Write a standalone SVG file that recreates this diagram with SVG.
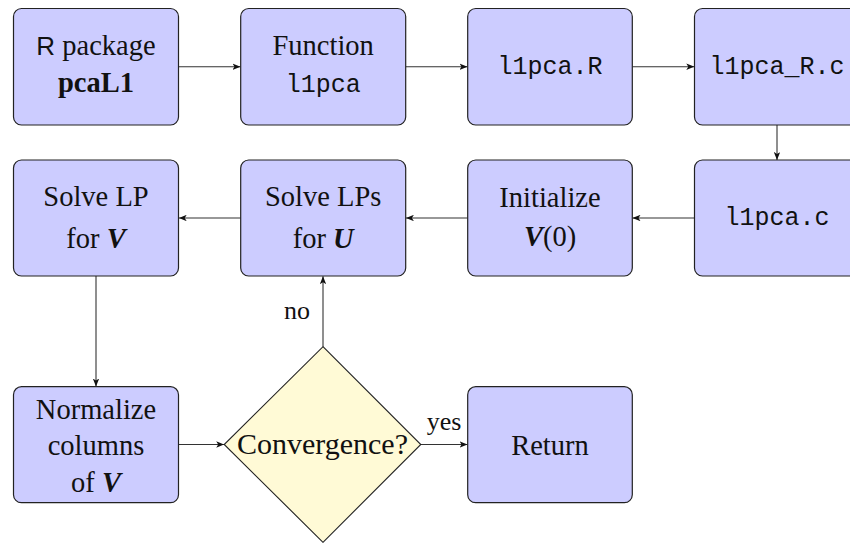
<svg xmlns="http://www.w3.org/2000/svg" width="850" height="543" viewBox="0 0 850 543">
  <style>
    .box { fill: #ccccff; stroke: #222; stroke-width: 1.2; }
    .dec { fill: #fffad6; stroke: #222; stroke-width: 1.1; }
    .edge { fill: none; stroke: #333; stroke-width: 1.1; marker-end: url(#arr); }
    .rm { font-family: "Liberation Serif", "Times New Roman", serif; font-size: 28.5px; fill: #111; text-anchor: middle; }
    .tt { font-family: "Liberation Mono", "Courier New", monospace; font-size: 25px; fill: #111; text-anchor: middle; }
    .sf { font-family: "Liberation Sans", Arial, sans-serif; }
    .bf { font-weight: bold; }
    .bi { font-weight: bold; font-style: italic; }
    .lbl { font-family: "Liberation Serif", "Times New Roman", serif; font-size: 26px; fill: #111; }
  </style>
  <defs>
    <marker id="arr" viewBox="0 0 10 8" refX="10" refY="4" markerWidth="8" markerHeight="6.4" markerUnits="userSpaceOnUse" orient="auto">
      <path d="M0,0 L10,4 L0,8 L2.5,4 Z" fill="#111"/>
    </marker>
  </defs>

  <rect width="850" height="543" fill="#ffffff"/>

  <!-- connectors -->
  <g id="edges">
    <path class="edge" d="M178.5,66.7 H240.5"/>
    <path class="edge" d="M405.7,66.7 H467.5"/>
    <path class="edge" d="M632.3,66.7 H694.3"/>
    <path class="edge" d="M777,125 V160"/>
    <path class="edge" d="M694.3,218 H632.5"/>
    <path class="edge" d="M467.7,218 H405.9"/>
    <path class="edge" d="M240.7,218 H178.7"/>
    <path class="edge" d="M96,276 V386.5"/>
    <path class="edge" d="M178.3,444.5 H224.2"/>
    <path class="edge" d="M323,346.7 V276.2"/>
    <path class="edge" d="M420.8,444.5 H467.5"/>
    <text class="lbl" x="297" y="318.5" text-anchor="middle">no</text>
    <text class="lbl" x="444" y="429.5" text-anchor="middle">yes</text>
  </g>

  <!-- row 1 -->
  <g id="pkg">
    <rect class="box" x="13.5" y="8.5" width="165" height="116.5" rx="8"/>
    <text class="rm" x="96" y="55"><tspan class="sf" font-size="26">R</tspan> package</text>
    <text class="rm bf" x="96" y="91.7">pcaL1</text>
  </g>
  <g id="func">
    <rect class="box" x="240.7" y="8.5" width="165" height="116.5" rx="8"/>
    <text class="rm" x="323.2" y="55">Function</text>
    <text class="tt" x="323.2" y="91.7">l1pca</text>
  </g>
  <g id="l1pcaR">
    <rect class="box" x="467.7" y="8.5" width="164.6" height="116.5" rx="8"/>
    <text class="tt" x="550" y="73.5">l1pca.R</text>
  </g>
  <g id="l1pcaRc">
    <rect class="box" x="694.5" y="8.5" width="165" height="116.5" rx="8"/>
    <text class="tt" x="777" y="73.5">l1pca_R.c</text>
  </g>

  <!-- row 2 -->
  <g id="l1pcac">
    <rect class="box" x="694.5" y="160" width="165" height="116" rx="8"/>
    <text class="tt" x="777" y="225">l1pca.c</text>
  </g>
  <g id="init">
    <rect class="box" x="467.7" y="160" width="164.6" height="116" rx="8"/>
    <text class="rm" x="550" y="207">Initialize</text>
    <text class="rm" x="550" y="246"><tspan class="bi">V</tspan>(0)</text>
  </g>
  <g id="solveU">
    <rect class="box" x="240.7" y="160" width="165" height="116" rx="8"/>
    <text class="rm" x="323.2" y="206">Solve LPs</text>
    <text class="rm" x="323.2" y="248">for <tspan class="bi">U</tspan></text>
  </g>
  <g id="solveV">
    <rect class="box" x="13.5" y="160" width="165" height="116" rx="8"/>
    <text class="rm" x="96" y="206">Solve LP</text>
    <text class="rm" x="96" y="248">for <tspan class="bi">V</tspan></text>
  </g>

  <!-- row 3 -->
  <g id="normalize">
    <rect class="box" x="13.5" y="386.7" width="165" height="116" rx="8"/>
    <text class="rm" x="96" y="418.5">Normalize</text>
    <text class="rm" x="96" y="455">columns</text>
    <text class="rm" x="96" y="491.7">of <tspan class="bi">V</tspan></text>
  </g>
  <g id="converge">
    <polygon class="dec" points="323,346.7 420.8,444.5 323,542.3 224.2,444.5"/>
    <text class="rm" x="322.5" y="453.5" textLength="171" lengthAdjust="spacingAndGlyphs">Convergence?</text>
  </g>
  <g id="return">
    <rect class="box" x="467.7" y="386.7" width="164.6" height="116" rx="8"/>
    <text class="rm" x="550" y="455">Return</text>
  </g>
</svg>
